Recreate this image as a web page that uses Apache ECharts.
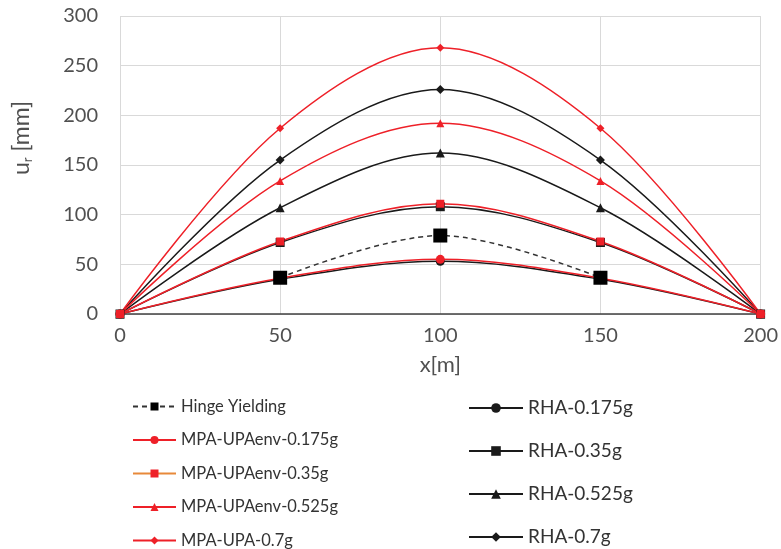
<!DOCTYPE html>
<html>
<head>
<meta charset="utf-8">
<script src="https://cdn.jsdelivr.net/npm/echarts@6/dist/echarts.min.js"></script>
<style>
  html, body { margin: 0; padding: 0; background: #fff; }
  #main { width: 781px; height: 549px; }
</style>
</head>
<body>
<div id="main"></div>
<script>
// x positions along the span
var xPos = [0, 50, 100, 150, 200];
var hingeX = [50, 100, 150];

// displacement values u_r [mm]
var hinge = [36.5, 79, 36.5];
var mpa175 = [0, 36, 55, 36, 0];
var mpa35 = [0, 73, 111, 73, 0];
var mpa525 = [0, 134, 192, 134, 0];
var mpa70 = [0, 187, 268, 187, 0];
var rha175 = [0, 35, 53, 35, 0];
var rha35 = [0, 72, 108, 72, 0];
var rha525 = [0, 107, 162, 107, 0];
var rha70 = [0, 155, 226, 155, 0];

var yTicks = [0, 50, 100, 150, 200, 250, 300];
var xTicks = [0, 50, 100, 150, 200];

var FONT = 'Lato';
var RED = '#ee2028';
var BLACK = '#1a1a1a';
var TXT = '#505050';

function pairs(xs, ys) {
  return ys.map(function (v, i) { return [xs[i], v]; });
}

function line(name, xs, ys, color, symbol, size, extra) {
  var s = {
    name: name,
    type: 'line',
    smooth: 0.34,
    data: pairs(xs, ys),
    symbol: symbol,
    symbolSize: size,
    showAllSymbol: true,
    lineStyle: { color: color, width: 1.5 },
    itemStyle: { color: color },
    z: 2
  };
  for (var k in extra) s[k] = extra[k];
  return s;
}

var chart = echarts.init(document.getElementById('main'));
chart.setOption({
  animation: false,
  backgroundColor: '#fff',
  textStyle: { fontFamily: FONT },
  grid: { left: 120, right: 20, top: 16, bottom: 235 },
  xAxis: {
    type: 'value',
    min: 0, max: 200, interval: 50,
    name: 'x[m]',
    nameLocation: 'middle',
    nameGap: 40,
    nameTextStyle: { fontSize: 22, color: TXT, fontFamily: FONT },
    axisLine: { show: true, lineStyle: { color: '#404040', width: 1.5 } },
    axisTick: { show: false },
    axisLabel: { fontSize: 20, color: TXT, margin: 12,
      formatter: function (v) { return xTicks.indexOf(v) >= 0 ? v : ''; } },
    splitLine: { show: true, lineStyle: { color: '#d9d9d9' } }
  },
  yAxis: {
    type: 'value',
    min: 0, max: 300, interval: 50,
    name: '{a|u}{b|r}{a| [mm]}',
    nameLocation: 'middle',
    nameGap: 86,
    nameRotate: 90,
    nameTextStyle: {
      padding: [0, 0, 0, 54],
      rich: {
        a: { fontSize: 23, color: TXT, fontFamily: FONT },
        b: { fontSize: 13, color: TXT, fontFamily: FONT, padding: [12, 0, 0, 0] }
      }
    },
    axisLine: { show: false },
    axisTick: { show: false },
    axisLabel: { fontSize: 20, color: TXT, margin: 22,
      formatter: function (v) { return yTicks.indexOf(v) >= 0 ? v : ''; } },
    splitLine: { show: true, lineStyle: { color: '#d9d9d9' } }
  },
  legend: [{
    orient: 'vertical',
    left: 132, top: 397, padding: 0, height: 175,
    itemWidth: 43, itemHeight: 10,
    itemGap: 14.5,
    textStyle: { fontSize: 16.5, lineHeight: 19, color: '#333', fontFamily: FONT },
    data: [
      { name: 'Hinge Yielding' },
      { name: 'MPA-UPAenv-0.175g' },
      { name: 'MPA-UPAenv-0.35g', lineStyle: { color: '#e8893a' } },
      { name: 'MPA-UPAenv-0.525g' },
      { name: 'MPA-UPA-0.7g' }
    ]
  }, {
    orient: 'vertical',
    left: 468, top: 396, padding: 0, height: 175,
    itemWidth: 54, itemHeight: 12,
    itemGap: 19,
    textStyle: { fontSize: 19, lineHeight: 24, color: '#333', fontFamily: FONT },
    data: ['RHA-0.175g', 'RHA-0.35g', 'RHA-0.525g', 'RHA-0.7g']
  }],
  series: [
    line('RHA-0.175g', xPos, rha175, BLACK, 'circle', 9),
    line('RHA-0.35g', xPos, rha35, BLACK, 'rect', 9),
    line('RHA-0.525g', xPos, rha525, BLACK, 'triangle', 9),
    line('RHA-0.7g', xPos, rha70, BLACK, 'diamond', 9),
    line('MPA-UPAenv-0.175g', xPos, mpa175, RED, 'circle', 9),
    line('MPA-UPAenv-0.35g', xPos, mpa35, RED, 'rect', 8),
    line('MPA-UPAenv-0.525g', xPos, mpa525, RED, 'triangle', 8),
    line('MPA-UPA-0.7g', xPos, mpa70, RED, 'diamond', 8),
    line('Hinge Yielding', hingeX, hinge, '#333', 'rect', 14,
      { lineStyle: { color: '#333', width: 1.5, type: [5, 4] }, itemStyle: { color: '#000' }, z: 3 })
  ]
});
</script>
</body>
</html>
